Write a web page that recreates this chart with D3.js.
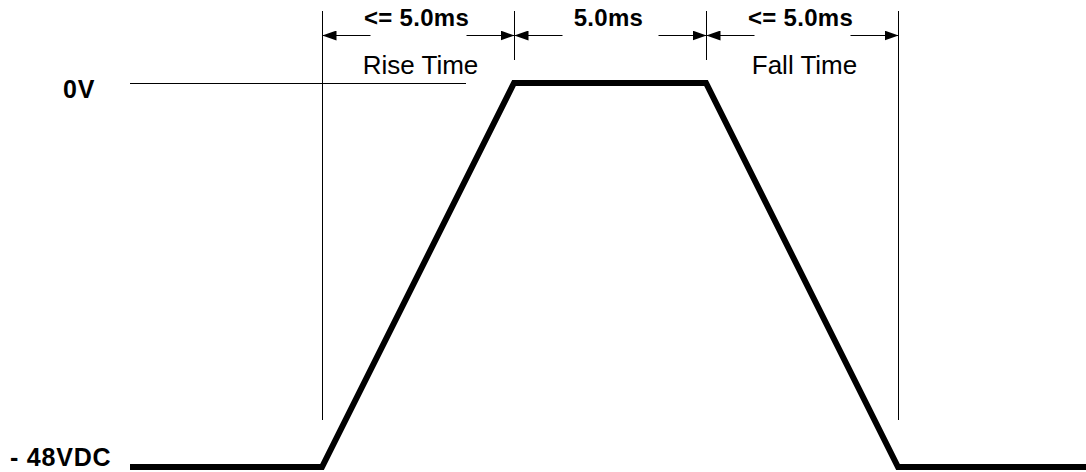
<!DOCTYPE html>
<html>
<head>
<meta charset="utf-8">
<script src="https://cdn.jsdelivr.net/npm/d3@7"></script>
<style>
  body { margin: 0; background: #fff; }
  svg { display: block; }
  text { font-family: "Liberation Sans", Arial, sans-serif; fill: #000; }
</style>
</head>
<body>
<div id="chart"></div>
<script>
// waveform (time in ms, level in volts)
const waveTime = [-5, 0, 5, 10, 15, 20];
const waveVolt = [-48, -48, 0, 0, -48, -48];

// dimension markers and their labels
const markerTime = [0, 5, 10, 15];
const markerLong = [true, false, false, true];
const spanLabels = ["<= 5.0ms", "5.0ms", "<= 5.0ms"];
const phaseLabels = ["Rise Time", "", "Fall Time"];

// voltage levels
const levelVolt = [0, -48];
const levelLabels = ["0V", "- 48VDC"];

const width = 1086, height = 472;

const x = d3.scaleLinear().domain([-5, 20]).range([130, 1090]);
const y = d3.scaleLinear().domain([-48, 0]).range([467, 83]);

const svg = d3.select("#chart").append("svg")
  .attr("width", width)
  .attr("height", height);

svg.append("defs").append("marker")
  .attr("id", "arrow")
  .attr("viewBox", "0 0 14 10")
  .attr("refX", 14)
  .attr("refY", 5)
  .attr("markerWidth", 14)
  .attr("markerHeight", 10)
  .attr("markerUnits", "userSpaceOnUse")
  .attr("orient", "auto")
  .append("path")
  .attr("d", "M0,0 L14,5 L0,10 Z")
  .attr("fill", "#000");

// thin 0V reference line
svg.append("line")
  .attr("x1", x(-5)).attr("x2", 466)
  .attr("y1", y(0) + 0.5).attr("y2", y(0) + 0.5)
  .attr("stroke", "#000").attr("stroke-width", 1);

// vertical marker lines
svg.selectAll(".marker")
  .data(markerTime)
  .enter()
  .append("line")
  .attr("x1", d => Math.round(x(d)) + 0.5)
  .attr("x2", d => Math.round(x(d)) + 0.5)
  .attr("y1", 11)
  .attr("y2", (d, i) => markerLong[i] ? 420 : 60)
  .attr("stroke", "#000").attr("stroke-width", 1);

// dimension arrows (two stubs per span pointing outwards)
const stub = 48;
const arrowY = 35.5;
spanLabels.forEach((label, i) => {
  const x0 = Math.round(x(markerTime[i])) + 0.5;
  const x1 = Math.round(x(markerTime[i + 1])) + 0.5;
  svg.append("line")
    .attr("x1", x0 + stub).attr("x2", x0)
    .attr("y1", arrowY).attr("y2", arrowY)
    .attr("stroke", "#000").attr("stroke-width", 1)
    .attr("marker-end", "url(#arrow)");
  svg.append("line")
    .attr("x1", x1 - stub).attr("x2", x1)
    .attr("y1", arrowY).attr("y2", arrowY)
    .attr("stroke", "#000").attr("stroke-width", 1)
    .attr("marker-end", "url(#arrow)");

  svg.append("text")
    .attr("x", (x0 + x1) / 2 - 2)
    .attr("y", 26)
    .attr("text-anchor", "middle")
    .style("font-size", "24px")
    .style("font-weight", "bold")
    .style("letter-spacing", "0.3px")
    .text(label);

  if (phaseLabels[i]) {
    svg.append("text")
      .attr("x", (x0 + x1) / 2 + 2)
      .attr("y", 74)
      .attr("text-anchor", "middle")
      .style("font-size", "26px")
      .text(phaseLabels[i]);
  }
});

// level labels
svg.selectAll(".level")
  .data(levelVolt)
  .enter()
  .append("text")
  .attr("x", (d, i) => i === 0 ? 63 : 10)
  .attr("y", d => y(d) + (d === 0 ? 15 : -1))
  .style("font-size", "25px")
  .style("font-weight", "bold")
  .style("letter-spacing", "0.8px")
  .text((d, i) => levelLabels[i]);

// waveform
const line = d3.line()
  .x(d => x(d[0]))
  .y(d => y(d[1]));

svg.append("path")
  .datum(waveTime.map((t, i) => [t, waveVolt[i]]))
  .attr("d", line)
  .attr("fill", "none")
  .attr("stroke", "#000")
  .attr("stroke-width", 6)
  .attr("stroke-linejoin", "miter");
</script>
</body>
</html>
